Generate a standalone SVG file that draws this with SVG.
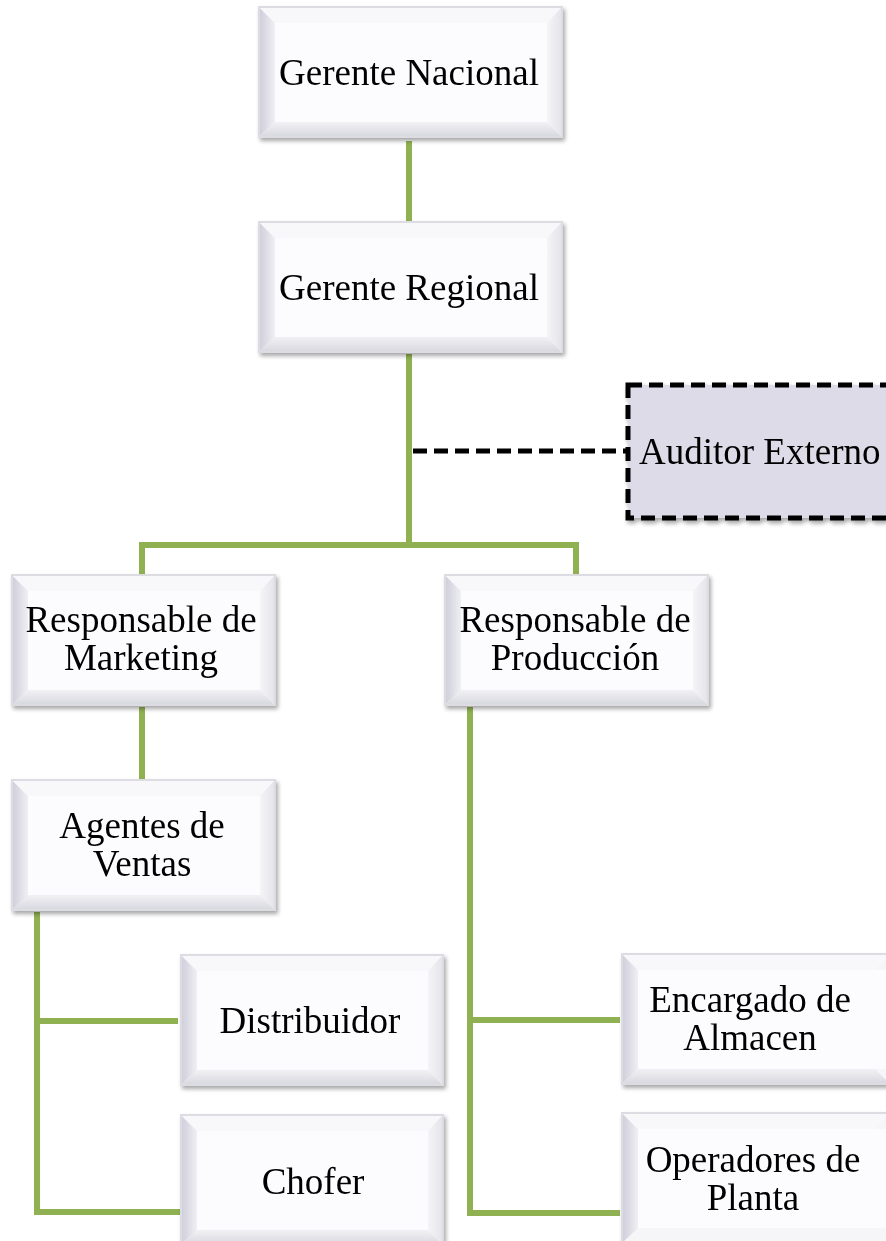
<svg xmlns="http://www.w3.org/2000/svg" width="886" height="1241" viewBox="0 0 886 1241">
<defs>
<linearGradient id="gL" x1="0" y1="0" x2="1" y2="0"><stop offset="0" stop-color="#d0cfdb"/><stop offset="1" stop-color="#efeff4"/></linearGradient>
<linearGradient id="gB" x1="0" y1="1" x2="0" y2="0"><stop offset="0" stop-color="#d9d9e0"/><stop offset="1" stop-color="#f1f1f5"/></linearGradient>
<linearGradient id="gR" x1="1" y1="0" x2="0" y2="0"><stop offset="0" stop-color="#e4e4ea"/><stop offset="1" stop-color="#f5f5f8"/></linearGradient>
<filter id="sh" x="-10%" y="-10%" width="125%" height="125%"><feGaussianBlur in="SourceAlpha" stdDeviation="2"/><feOffset dx="2" dy="3"/><feComponentTransfer><feFuncA type="linear" slope="0.35"/></feComponentTransfer><feMerge><feMergeNode/><feMergeNode in="SourceGraphic"/></feMerge></filter>
</defs>
<style>
.g{stroke:#8fb151;stroke-width:6;fill:none}
.d{stroke:#000;stroke-width:5;stroke-dasharray:14,7;fill:none}
.o{fill:#f6f6f9;stroke:#dcdce2;stroke-width:2}
.l{fill:url(#gL)}.b{fill:url(#gB)}.r{fill:url(#gR)}.t{fill:#f8f8fb}
.i{fill:#fcfcfe}
.x{font-family:"Liberation Serif","Times New Roman",serif;font-size:37px;fill:#000;text-anchor:middle}
</style>
<rect width="886" height="1241" fill="#fff"/>
<g id="connectors">
<line class="g" x1="409" y1="141" x2="409" y2="221"/>
<polyline class="g" points="409,354 409,545"/>
<polyline class="g" points="142,574 142,545 576,545 576,574"/>
<line class="g" x1="142" y1="707" x2="142" y2="781"/>
<polyline class="g" points="37,912 37,1212 180,1212"/>
<line class="g" x1="37" y1="1021" x2="178" y2="1021"/>
<polyline class="g" points="470,707 470,1213 620,1213"/>
<line class="g" x1="470" y1="1020" x2="620" y2="1020"/>
<line class="d" x1="413" y1="451" x2="628" y2="451"/>
</g>
<g id="n1" filter="url(#sh)">
<rect class="o" x="259" y="7" width="303" height="130"/>
<path class="l" d="M260,8 L275,23 L275,122 L260,136Z"/>
<path class="t" d="M260,8 L561,8 L547,23 L275,23Z"/>
<path class="b" d="M260,136 L275,122 L547,122 L561,136Z"/>
<path class="r" d="M561,8 L547,23 L547,122 L561,136Z"/>
<rect class="i" x="275" y="23" width="272" height="99"/>
<text class="x" x="409" y="85">Gerente Nacional</text>
</g>
<g id="n2" filter="url(#sh)">
<rect class="o" x="259" y="222" width="303" height="130"/>
<path class="l" d="M260,223 L275,238 L275,337 L260,351Z"/>
<path class="t" d="M260,223 L561,223 L547,238 L275,238Z"/>
<path class="b" d="M260,351 L275,337 L547,337 L561,351Z"/>
<path class="r" d="M561,223 L547,238 L547,337 L561,351Z"/>
<rect class="i" x="275" y="238" width="272" height="99"/>
<text class="x" x="409" y="300">Gerente Regional</text>
</g>
<g id="n3" filter="url(#sh)">
<rect x="628" y="385" width="262" height="133" fill="#dcdbe7"/>
<rect class="d" x="628" y="385" width="262" height="133"/>
<text class="x" x="639" y="464" style="text-anchor:start">Auditor Externo</text>
</g>
<g id="n4" filter="url(#sh)">
<rect class="o" x="12" y="575" width="263" height="130"/>
<path class="l" d="M13,576 L28,591 L28,690 L13,704Z"/>
<path class="t" d="M13,576 L274,576 L260,591 L28,591Z"/>
<path class="b" d="M13,704 L28,690 L260,690 L274,704Z"/>
<path class="r" d="M274,576 L260,591 L260,690 L274,704Z"/>
<rect class="i" x="28" y="591" width="232" height="99"/>
<text class="x" x="141" y="632">Responsable de</text>
<text class="x" x="141" y="670">Marketing</text>
</g>
<g id="n5" filter="url(#sh)">
<rect class="o" x="445" y="575" width="263" height="130"/>
<path class="l" d="M446,576 L461,591 L461,690 L446,704Z"/>
<path class="t" d="M446,576 L707,576 L693,591 L461,591Z"/>
<path class="b" d="M446,704 L461,690 L693,690 L707,704Z"/>
<path class="r" d="M707,576 L693,591 L693,690 L707,704Z"/>
<rect class="i" x="461" y="591" width="232" height="99"/>
<text class="x" x="575" y="632">Responsable de</text>
<text class="x" x="575" y="670">Producción</text>
</g>
<g id="n6" filter="url(#sh)">
<rect class="o" x="12" y="780" width="263" height="130"/>
<path class="l" d="M13,781 L28,796 L28,895 L13,909Z"/>
<path class="t" d="M13,781 L274,781 L260,796 L28,796Z"/>
<path class="b" d="M13,909 L28,895 L260,895 L274,909Z"/>
<path class="r" d="M274,781 L260,796 L260,895 L274,909Z"/>
<rect class="i" x="28" y="796" width="232" height="99"/>
<text class="x" x="142" y="838">Agentes de</text>
<text class="x" x="142" y="876">Ventas</text>
</g>
<g id="n7" filter="url(#sh)">
<rect class="o" x="181" y="955" width="262" height="130"/>
<path class="l" d="M182,956 L197,971 L197,1070 L182,1084Z"/>
<path class="t" d="M182,956 L442,956 L428,971 L197,971Z"/>
<path class="b" d="M182,1084 L197,1070 L428,1070 L442,1084Z"/>
<path class="r" d="M442,956 L428,971 L428,1070 L442,1084Z"/>
<rect class="i" x="197" y="971" width="231" height="99"/>
<text class="x" x="310" y="1033">Distribuidor</text>
</g>
<g id="n8" filter="url(#sh)">
<rect class="o" x="181" y="1115" width="262" height="130"/>
<path class="l" d="M182,1116 L197,1131 L197,1230 L182,1244Z"/>
<path class="t" d="M182,1116 L442,1116 L428,1131 L197,1131Z"/>
<path class="b" d="M182,1244 L197,1230 L428,1230 L442,1244Z"/>
<path class="r" d="M442,1116 L428,1131 L428,1230 L442,1244Z"/>
<rect class="i" x="197" y="1131" width="231" height="99"/>
<text class="x" x="313" y="1194">Chofer</text>
</g>
<g id="n9" filter="url(#sh)">
<rect class="o" x="622" y="954" width="268" height="130"/>
<path class="l" d="M623,955 L638,970 L638,1069 L623,1083Z"/>
<path class="t" d="M623,955 L889,955 L875,970 L638,970Z"/>
<path class="b" d="M623,1083 L638,1069 L875,1069 L889,1083Z"/>
<rect class="i" x="638" y="970" width="248" height="99"/>
<text class="x" x="750" y="1012">Encargado de</text>
<text class="x" x="750" y="1050">Almacen</text>
</g>
<g id="n10" filter="url(#sh)">
<rect class="o" x="622" y="1113" width="268" height="130"/>
<path class="l" d="M623,1114 L638,1129 L638,1228 L623,1242Z"/>
<path class="t" d="M623,1114 L889,1114 L875,1129 L638,1129Z"/>
<rect class="i" x="638" y="1129" width="248" height="99"/>
<text class="x" x="753" y="1172">Operadores de</text>
<text class="x" x="753" y="1210">Planta</text>
</g>
</svg>
